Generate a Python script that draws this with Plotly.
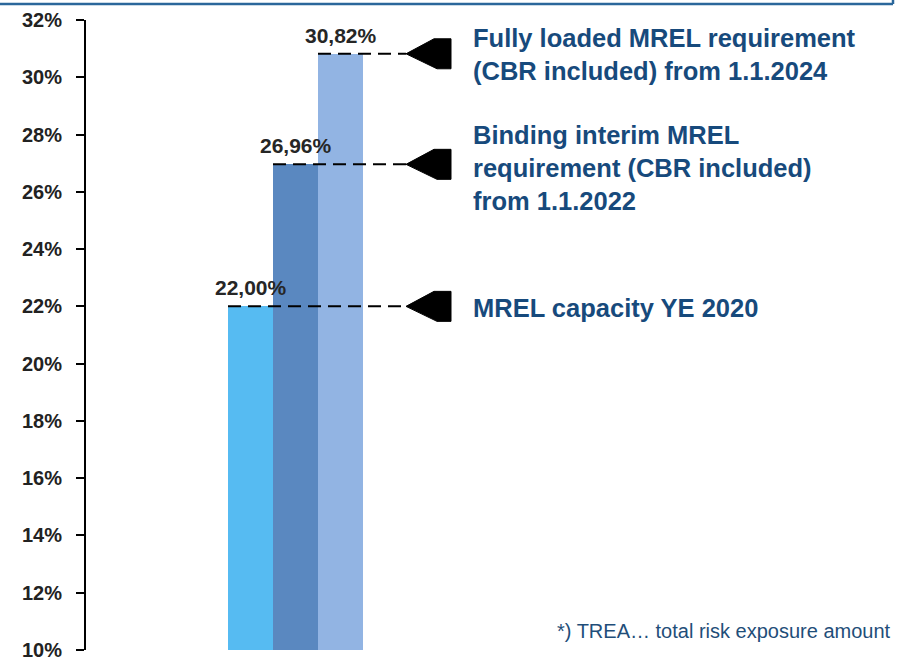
import plotly.graph_objects as go

# ---- data ----
series_names = [
    "MREL capacity YE 2020",
    "Binding interim MREL<br>requirement (CBR included)<br>from 1.1.2022",
    "Fully loaded MREL requirement<br>(CBR included) from 1.1.2024",
]
values = [22.00, 26.96, 30.82]
value_labels = ["22,00%", "26,96%", "30,82%"]
bar_colors = ["#56BBF2", "#5A88C0", "#92B4E3"]
tick_vals = [10, 12, 14, 16, 18, 20, 22, 24, 26, 28, 30, 32]
tick_text = ["10%", "12%", "14%", "16%", "18%", "20%", "22%", "24%", "26%", "28%", "30%", "32%"]
footnote = "*) TREA\u2026 total risk exposure amount"

# ---- layout helpers ----
W, H = 897, 663
ML, MR, MT, MB = 86, 7, 20, 13
PX_PER_UNIT = 45.0
first_center_px = 250.5
x_left = -(first_center_px - ML) / PX_PER_UNIT
x_right = (W - MR - first_center_px) / PX_PER_UNIT
ARROW_TIP_X = (406 - first_center_px) / PX_PER_UNIT
TEXT_X = (471 - first_center_px) / PX_PER_UNIT
pw = W - ML - MR
ph = H - MT - MB

xs = list(range(len(values)))

fig = go.Figure()
fig.add_trace(go.Bar(
    x=xs, y=values, width=1,
    marker=dict(color=bar_colors, line=dict(width=0)),
    showlegend=False, hoverinfo="skip",
))

shapes = []
annotations = []
text_shifts = [-2, -4, -1]
for i, v in enumerate(values):
    # dashed leader line from bar's left edge to the arrow tip
    shapes.append(dict(type="line", xref="x", yref="y",
                       x0=xs[i] - 0.5, x1=ARROW_TIP_X, y0=v, y1=v,
                       line=dict(color="black", width=2, dash="13px,7px")))
    # arrowhead
    shapes.append(dict(type="path", xref="x", yref="y",
                       xsizemode="pixel", ysizemode="pixel",
                       xanchor=ARROW_TIP_X, yanchor=v,
                       path="M0,0 L28,15 L45,15 L45,-15 L31,-15 Z",
                       fillcolor="black", line=dict(color="black", width=1)))
    # value label
    annotations.append(dict(x=xs[i], y=v, xref="x", yref="y",
                            text=value_labels[i], showarrow=False,
                            xanchor="center", yanchor="bottom", yshift=5,
                            font=dict(family="Liberation Sans, Arial", size=21,
                                      color="#262626", weight="bold")))
    # description
    annotations.append(dict(x=TEXT_X, y=v, xref="x", yref="y",
                            text=series_names[i], showarrow=False, align="left",
                            xanchor="left", yanchor="middle", yshift=text_shifts[i],
                            font=dict(family="Liberation Sans, Arial", size=25.5,
                                      color="#174A7C", weight="bold")))

annotations.append(dict(x=(893 - ML) / pw, y=(H - MB - 631) / ph, xref="paper", yref="paper",
                        text=footnote, showarrow=False, xanchor="right", yanchor="middle",
                        font=dict(family="Liberation Sans, Arial", size=20, color="#1F4E79")))

# top frame border
top_y = 1 + (MT - 4) / ph
right_x = (893 - ML) / pw
shapes.append(dict(type="line", xref="paper", yref="paper",
                   x0=-ML / pw, x1=right_x, y0=top_y, y1=top_y,
                   line=dict(color="#2B679B", width=2.5)))
shapes.append(dict(type="line", xref="paper", yref="paper",
                   x0=right_x, x1=right_x, y0=top_y, y1=1 + MT / ph,
                   line=dict(color="#2B679B", width=2.5)))

fig.update_layout(
    width=W, height=H,
    margin=dict(l=ML, r=MR, t=MT, b=MB, autoexpand=False),
    paper_bgcolor="white", plot_bgcolor="white",
    bargap=0,
    shapes=shapes, annotations=annotations,
    xaxis=dict(range=[x_left, x_right], visible=False, fixedrange=True,
               automargin=False),
    yaxis=dict(range=[10, 32], tickvals=tick_vals, ticktext=tick_text,
               automargin=False, ticklabeloverflow="allow",
               showgrid=False, zeroline=False,
               showline=True, linecolor="black", linewidth=2,
               ticks="outside", ticklen=8, tickcolor="black", tickwidth=1.5,
               ticklabelstandoff=10,
               tickfont=dict(family="Liberation Sans, Arial", size=20,
                             color="#222222", weight="bold")),
)

fig.write_html("out.html", config={"displayModeBar": False},
               post_script="document.body.style.margin='0';document.body.style.overflow='hidden';")
